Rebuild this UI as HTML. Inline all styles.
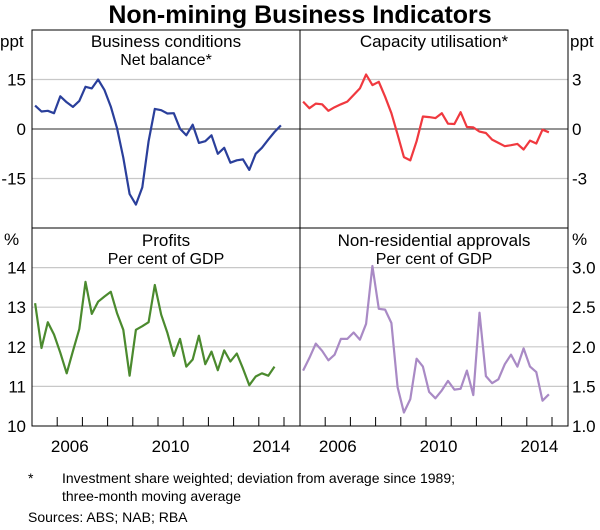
<!DOCTYPE html>
<html><head><meta charset="utf-8"><style>
body{margin:0;background:#fff;}
svg{display:block;font-family:"Liberation Sans",Arial,sans-serif;}
</style></head><body>
<svg id="c" width="600" height="530">
<text x="300" y="23" text-anchor="middle" font-size="25" font-weight="bold" fill="#000">Non-mining Business Indicators</text>
<g id="grid"></g><g id="marks"></g><g id="frame"></g>
<text x="28" y="483" font-size="14">*</text>
<text x="62" y="483" font-size="14">Investment share weighted; deviation from average since 1989;</text>
<text x="62" y="501" font-size="14">three-month moving average</text>
<text x="28" y="522" font-size="14">Sources:   ABS; NAB; RBA</text>
</svg>
<script>
const bizConditions=[7.1,5.3,5.5,4.8,9.9,8.1,6.7,8.5,12.8,12.3,15,11.8,6.8,0.3,-8.7,-19.7,-22.9,-17.7,-3.7,6.1,5.7,4.7,4.8,0.1,-1.9,1.3,-4.2,-3.7,-1.9,-7.5,-5.7,-10.2,-9.5,-9.2,-12.4,-7.5,-5.7,-3.2,-0.9,1.1];
const capacityUtil=[1.66,1.26,1.54,1.5,1.1,1.32,1.5,1.66,2.06,2.46,3.3,2.66,2.86,1.96,0.96,-0.34,-1.7,-1.9,-0.74,0.76,0.72,0.66,0.96,0.32,0.3,1.02,0.12,0.1,-0.16,-0.24,-0.64,-0.84,-1.04,-0.98,-0.9,-1.24,-0.7,-0.88,-0.04,-0.2];
const profits=[13.1,11.97,12.62,12.31,11.85,11.33,11.89,12.45,13.64,12.83,13.14,13.27,13.39,12.85,12.43,11.27,12.43,12.52,12.62,13.56,12.81,12.35,11.77,12.2,11.5,11.68,12.28,11.56,11.88,11.41,11.91,11.63,11.83,11.45,11.03,11.25,11.33,11.27,11.5];
const approvals=[1.70,1.86,2.04,1.95,1.83,1.90,2.10,2.10,2.18,2.09,2.29,3.02,2.48,2.47,2.30,1.49,1.17,1.34,1.85,1.75,1.43,1.35,1.45,1.57,1.46,1.47,1.70,1.39,2.43,1.63,1.54,1.59,1.78,1.90,1.75,1.98,1.75,1.68,1.32,1.40];
const leftTicksTop=[15,0,-15];
const rightTicksTop=[3,0,-3];
const leftTicksBot=[14,13,12,11,10];
const rightTicksBot=["3.0","2.5","2.0","1.5","1.0"];
const yearLabels=[2006,2010,2014];
const startYear=2005;

const NS="http://www.w3.org/2000/svg";
function el(tag,attrs,parent,txt){const e=document.createElementNS(NS,tag);for(const k in attrs)e.setAttribute(k,attrs[k]);if(txt!==undefined)e.textContent=txt;parent.appendChild(e);return e;}
const grid=document.getElementById('grid'),marks=document.getElementById('marks'),frame=document.getElementById('frame');
const panels=[
 {x0:32,x1:300,y0:30,y1:228,min:-30,max:30,data:bizConditions,color:"#2a3f9b",name:"business-conditions"},
 {x0:300,x1:568,y0:30,y1:228,min:-6,max:6,data:capacityUtil,color:"#f0393f",name:"capacity-utilisation"},
 {x0:32,x1:300,y0:228,y1:426,min:10,max:15,data:profits,color:"#4b8a2e",name:"profits"},
 {x0:300,x1:568,y0:228,y1:426,min:1,max:3.5,data:approvals,color:"#a98ac5",name:"non-residential-approvals"}];
function xs(p,t){return p.x0+(t-startYear)*25.2;}
function ys(p,v){return p.y1-(v-p.min)/(p.max-p.min)*(p.y1-p.y0);}
function gl(p,vals){vals.forEach(v=>{const y=ys(p,+v);const zero=(+v===0);
 const l=el('line',{x1:p.x0,x2:p.x1,y1:y,y2:y,stroke:zero?"#555":"#c8c8c8","stroke-width":1.2},grid);
 
 });}
gl(panels[0],[15,0,-15]);gl(panels[1],[3,0,-3]);gl(panels[2],[14,13,12,11]);gl(panels[3],[3,2.5,2,1.5]);
panels.forEach(p=>{const pts=p.data.map((v,i)=>xs(p,startYear+0.125+i*0.25).toFixed(1)+","+ys(p,v).toFixed(1)).join(" ");
 const pl=el('polyline',{points:pts,fill:"none",stroke:p.color,"stroke-width":2.2,"stroke-linejoin":"round"},marks);
 
 });
const fr=el('rect',{x:32,y:30,width:536,height:396,fill:"none",stroke:"#000","stroke-width":1},frame);

const vl=el('line',{x1:300,x2:300,y1:30,y2:426,stroke:"#000"},frame);

const hl=el('line',{x1:32,x2:568,y1:228,y2:228,stroke:"#000"},frame);

for(let yr=2006;yr<=2015;yr++){[panels[2],panels[3]].forEach(p=>{const x=xs(p,yr);if(x<p.x1-1){
 const t=el('line',{x1:x,x2:x,y1:426,y2:417,stroke:"#000"},frame);
 }});}
yearLabels.forEach(yr=>{[panels[2],panels[3]].forEach(p=>{
 const t=el('text',{x:xs(p,yr+0.5),y:452,"text-anchor":"middle","font-size":17},frame,String(yr));
 });});
function yl(p,vals,side){vals.forEach(v=>{const t=el('text',{x:side==='l'?26:572,y:ys(p,+v)+6,"text-anchor":side==='l'?"end":"start","font-size":17},frame,String(v));
 });}
yl(panels[0],leftTicksTop,'l');yl(panels[1],rightTicksTop,'r');yl(panels[2],leftTicksBot,'l');yl(panels[3],rightTicksBot,'r');
function txt(x,y,s,anchor,name,size){const t=el('text',{x:x,y:y,"text-anchor":anchor,"font-size":size||17},frame,s);
 }
txt(0,47,"ppt","start","y-unit-left-top");txt(570,47,"ppt","start","y-unit-right-top");
txt(4,245,"%","start","y-unit-left-bottom");txt(572,245,"%","start","y-unit-right-bottom");
txt(166,47,"Business conditions","middle","panel-title-business-conditions");
txt(166,65,"Net balance*","middle","panel-subtitle-business-conditions",16);
txt(434,47,"Capacity utilisation*","middle","panel-title-capacity-utilisation");
txt(166,246,"Profits","middle","panel-title-profits");
txt(166,264,"Per cent of GDP","middle","panel-subtitle-profits",16);
txt(434,246,"Non-residential approvals","middle","panel-title-approvals");
txt(434,264,"Per cent of GDP","middle","panel-subtitle-approvals",16);
</script>
</body></html>
